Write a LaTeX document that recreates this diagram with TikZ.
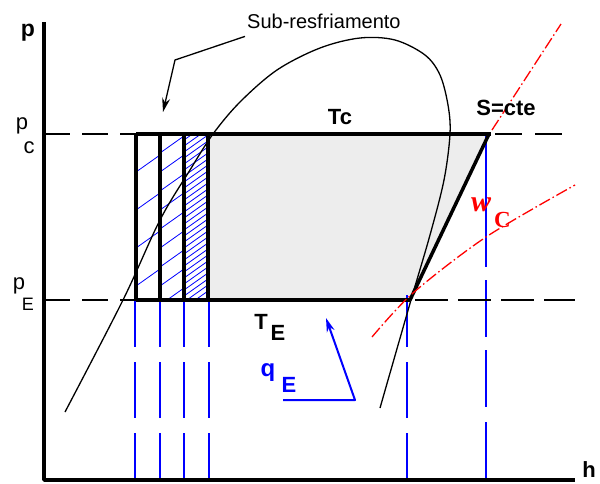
\documentclass[tikz,border=0pt]{standalone}
\usepackage{fontspec}
\setmainfont{Liberation Sans}
\newfontfamily\wfont{Liberation Serif}
\usetikzlibrary{arrows.meta}

\begin{document}
\begin{tikzpicture}[x=1pt,y=-1pt,>={Stealth[length=14pt,width=8pt]},line join=round,
  cyc/.style={line width=3.5pt},
  axis/.style={line width=3.5pt},
  refl/.style={line width=1.8pt,dash pattern=on 26pt off 12pt},
  proj/.style={blue,line width=2pt},
  hatch/.style={blue,line width=0.8pt},
  isen/.style={red,line width=1.3pt,dash pattern=on 12pt off 3pt on 1.5pt off 3pt},
  lbl/.style={inner sep=0pt,font=\fontsize{22}{24}\selectfont\bfseries},
  plbl/.style={inner sep=0pt,anchor=base,font=\fontsize{22}{24}\selectfont}]
\useasboundingbox (0,0) rectangle (600,483);

\fill[black!7] (208,134) -- (487,134) -- (410,300) -- (208,300) -- cycle;
\foreach \xa/\xb/\s in {136/160/38,160/184/19,184/208/6} {
  \pgfmathtruncatemacro\nxt{134+\s}
  \begin{scope}
    \clip (\xa,134) rectangle (\xb,300);
    \foreach \k in {134,\nxt,...,320} {\draw[hatch] (\xa,\k) -- ++(24,-17);}
  \end{scope}
}

\foreach \x in {135,160,184,209} {\draw[proj,dash pattern=on 47pt off 15pt on 56pt off 15pt on 60pt] (\x,300) -- (\x,480);}
\draw[proj,dash pattern=on 52pt off 15pt on 56pt off 15pt on 60pt] (407,295) -- (407,480);
\draw[proj,dash pattern=on 133pt off 13pt on 57pt off 13pt on 57pt off 15pt on 60pt] (486,134) -- (486,480);

\draw[refl] (44,134) -- (136,134);
\draw[refl] (44,300) -- (136,300);
\draw[refl,dash pattern=on 27pt off 13pt] (495,134) -- (575,134);
\draw[refl,dash pattern=on 33pt off 10pt] (415,300) -- (575,300);

\draw[cyc] (136,134) -- (491,134);
\draw[cyc] (136,300) -- (410,300);
\foreach \x in {136,160,184,208} {\draw[cyc] (\x,134) -- (\x,300);}
\draw[cyc] (410,300) -- (489,134);

\draw[line width=1.3pt] plot[smooth,tension=0.55] coordinates {(65,412) (123,300) (160,220) (190,170) (213,134) (240,102) (277,70) (320,48) (360,38) (395,40) (425,55) (440,75) (448,105) (450,134) (444,180) (430,235) (411,300) (380,408)};

\draw[isen] (492,130) -- (561,24);
\draw[isen] plot[smooth] coordinates {(372,337) (413,293) (486,237) (575,185)};

\draw[axis] (44,22) -- (44,480) -- (575,480);

\node[lbl,font=\fontsize{23}{24}\selectfont\bfseries] (pax) at (28,33) {p};
\node[lbl,anchor=base east,font=\fontsize{22}{24}\selectfont\bfseries] (hax) at (596,477) {h};
\node[plbl] (pcp) at (22,129) {p};
\node[plbl] (pcc) at (29,153) {c};
\node[plbl] (pep) at (19,289) {p};
\node[plbl,font=\fontsize{18}{20}\selectfont] (pee) at (28,310) {E};

\node[lbl] (tc) at (340,117) {Tc};
\node[lbl] (scte) at (506,108) {S=cte};
\node[lbl] (te) at (261,322) {T};
\node[lbl] (tee) at (278,333) {E};

\node[lbl,anchor=base,blue,font=\fontsize{24}{26}\selectfont\bfseries] (qe) at (268,376) {q};
\node[lbl,anchor=base,blue] (qee) at (289,392) {E};
\coordinate (qbase) at (283,400);
\coordinate (qcorner) at (355,400);
\coordinate (qtip) at (326,318);
\draw[blue,line width=2pt,->] (qbase) -- (qcorner) -- (qtip);

\node[inner sep=0pt,anchor=base west,red,font=\wfont\fontsize{30}{32}\selectfont\bfseries\itshape] (wc) at (471,211) {w};
\node[inner sep=0pt,anchor=base west,red,font=\wfont\fontsize{23}{24}\selectfont\bfseries] (wcc) at (494,227) {C};

\node[inner sep=0pt,anchor=base west,font=\fontsize{20}{22}\selectfont] (subr) at (247,28) {Sub-resfriamento};
\coordinate (subtip) at (163,112);
\draw[line width=1.3pt,->] ([shift={(-2,8)}]subr.south west) -- (175,60) -- (subtip);
\end{tikzpicture}
\end{document}
